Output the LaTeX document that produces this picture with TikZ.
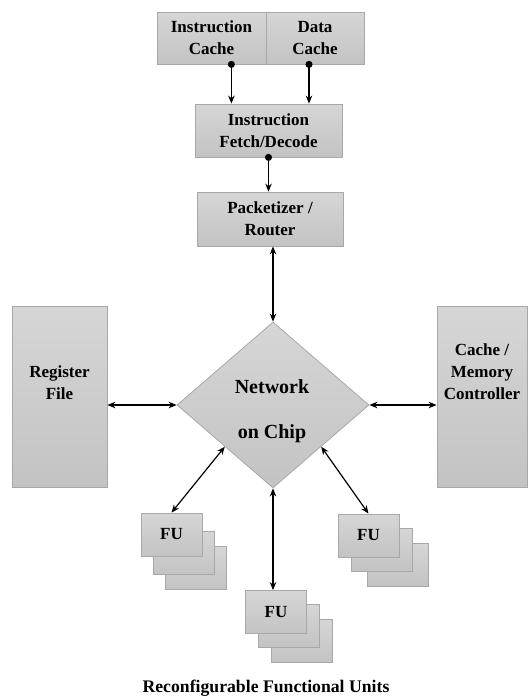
\documentclass[tikz,border=0pt]{standalone}
\usepackage{fontspec}
\setmainfont{Liberation Serif}
\usetikzlibrary{shapes.geometric,arrows.meta}
\definecolor{boxtop}{HTML}{D6D6D6}
\definecolor{boxbot}{HTML}{C3C3C3}
\definecolor{boxline}{HTML}{A8A8A8}

\begin{document}
\begin{tikzpicture}[x=1pt,y=-1pt,
    blk/.style={draw=boxline,line width=0.8pt,top color=boxtop,bottom color=boxbot,
      inner sep=0pt,align=center,font=\bfseries\fontsize{17}{22}\selectfont},
    fu/.style={blk,minimum width=61pt,minimum height=43pt},
    lbl/.style={align=center,font=\bfseries\fontsize{17}{22}\selectfont},
    link/.style={line width=1.2pt,{Stealth[length=8pt,width=6.5pt]}-{Stealth[length=8pt,width=6.5pt]}},
    feed/.style={line width=1.2pt,{Circle[length=7pt]}-{Stealth[length=8pt,width=6.5pt]},shorten <=-3.5pt}]
  \useasboundingbox (0,0) rectangle (528,699);

  % front end
  \node[blk,minimum width=109pt,minimum height=52pt] (icache) at (211.5,38) {Instruction\\Cache};
  \node[blk,minimum width=98pt,minimum height=52pt] (dcache) at (315,38) {Data\\Cache};
  \node[blk,minimum width=147pt,minimum height=53pt] (fetch) at (268.5,130.5) {Instruction\\Fetch/Decode};
  \node[blk,minimum width=146pt,minimum height=54pt] (pack) at (270,219) {Packetizer /\\Router};

  % network and side blocks
  \node[blk,shape=diamond,minimum width=192pt,minimum height=166pt] (noc) at (273,405) {};
  \node[lbl,font=\bfseries\fontsize{20}{23}\selectfont] (noctxt) at (272,411) {Network\\[22pt]on Chip};
  \node[blk,minimum width=95pt,minimum height=181pt] (regfile) at (59.5,396.5) {};
  \node[lbl] (regtxt) at (59.5,383) {Register\\File};
  \node[blk,minimum width=90pt,minimum height=181pt] (mem) at (482,396.5) {};
  \node[lbl] (memtxt) at (482,372) {Cache /\\Memory\\Controller};

  % functional units (back to front)
  \node[fu] (fuL3) at (195.5,568) {};
  \node[fu] (fuL2) at (184,553) {};
  \node[fu] (fuL) at (171.5,534.5) {FU};
  \node[fu] (fuM3) at (302,640.5) {};
  \node[fu] (fuM2) at (289,626) {};
  \node[fu] (fuM) at (276,612) {FU};
  \node[fu] (fuR3) at (398,564.5) {};
  \node[fu] (fuR2) at (382,549.5) {};
  \node[fu] (fuR) at (368.5,535.5) {FU};

  \node[lbl,font=\bfseries\fontsize{17.7}{22}\selectfont] (caption) at (266,688) {Reconfigurable Functional Units};

  % connections
  \coordinate (ic) at ([xshift=-35pt]icache.south east);
  \coordinate (dc) at ([xshift=-6pt]dcache.south);
  \draw[feed] (ic) -- (ic |- fetch.north);
  \draw[feed] (dc) -- (dc |- fetch.north);
  \draw[feed] (fetch.south) -- (fetch.south |- pack.north);
  \draw[link] (noc.north |- pack.south) -- (noc.north);
  \draw[link] (regfile.east |- noc.west) -- (noc.west);
  \draw[link] (noc.east) -- (mem.west |- noc.east);
  \draw[link] (noc.south west) -- (fuL.north);
  \draw[link] (noc.south east) -- (fuR.north);
  \draw[link] (noc.south) -- (noc.south |- fuM.north);
\end{tikzpicture}
\end{document}
